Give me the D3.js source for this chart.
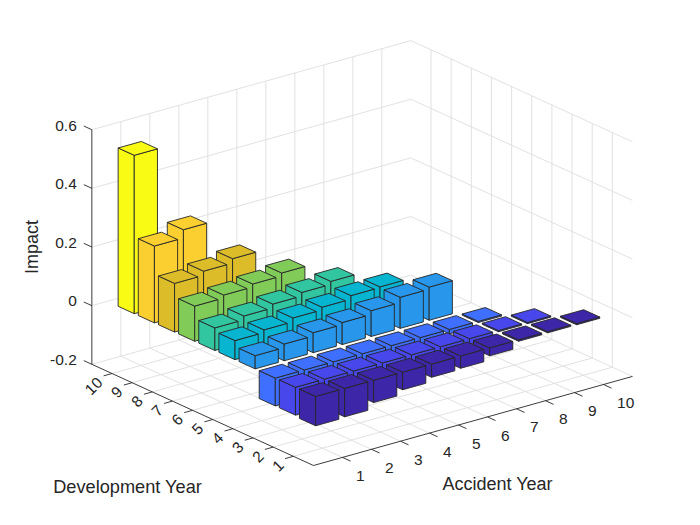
<!DOCTYPE html>
<html><head><meta charset="utf-8">
<script src="https://cdn.jsdelivr.net/npm/d3@7"></script>
<style>
body{margin:0;background:#fff}
svg{display:block}
text{font-family:"Liberation Sans",Arial,Helvetica,sans-serif;fill:#262626}
</style>
</head><body><svg id="chart" width="700" height="525"></svg>
<script>
// ---------------- data ----------------
const accidentYears = [1,2,3,4,5,6,7,8,9,10];
const developmentYears = [1,2,3,4,5,6,7,8,9,10];
const zTicks = [-0.2, 0, 0.2, 0.4, 0.6];
const zTickLabels = ["-0.2","0","0.2","0.4","0.6"];
// impact per development year, one value per accident year present
const dev1  = [-0.100,-0.097,-0.076,-0.060,-0.045,-0.042,-0.027,-0.005,-0.004,-0.004];
const dev2  = [-0.095,-0.090,-0.075,-0.060,-0.045,-0.030,-0.020,-0.004,-0.004];
const dev3  = [-0.095,-0.085,-0.070,-0.060,-0.045,-0.030,-0.015,-0.004];
const dev4  = [0.045,0.057,0.068,0.075,0.088,0.106,0.113];
const dev5  = [0.065,0.074,0.087,0.096,0.108,0.110];
const dev6  = [0.077,0.090,0.103,0.115,0.125];
const dev7  = [0.120,0.130,0.140,0.150];
const dev8  = [0.166,0.180,0.195];
const dev9  = [0.262,0.290];
const dev10 = [0.540];
const impactByDev = [dev1,dev2,dev3,dev4,dev5,dev6,dev7,dev8,dev9,dev10];
const parula10 = ["#3E26A8","#4747EB","#3E6FFF","#2796EB","#08B5D0","#31C69F","#81CC59","#DCBD29","#FCCF30","#F9FB15"];

// ---------------- projection via d3 scales ----------------
const svg = d3.select("#chart");
const xs = d3.scaleLinear().domain([0, 11]).range([0, 1]);
const ys = d3.scaleLinear().domain([0, 11]).range([0, 1]);
const zs = d3.scaleLinear().domain([-0.2, 0.6]).range([0, 234.6]);
const color = d3.scaleOrdinal().domain(developmentYears).range(parula10);
const origin = [313.5, 465.5], ex = [319, -89.1], ey = [-221.65, -101.2];
function P(x, y, z) {
  const u = xs(x), v = ys(y), h = zs(z);
  return [origin[0] + u*ex[0] + v*ey[0], origin[1] + u*ex[1] + v*ey[1] - h];
}
const line = d3.line();
const gridColor = "#dedede";

// ---------------- grid ----------------
const grid = svg.append("g").attr("fill","none").attr("stroke",gridColor).attr("stroke-width",0.9);
const [x0d, x1d] = xs.domain(), [y0d, y1d] = ys.domain(), [z0d, z1d] = zs.domain();
accidentYears.forEach(a => grid.append("path").attr("d", line([P(a,y0d,z0d), P(a,y1d,z0d)])));
developmentYears.forEach(d => grid.append("path").attr("d", line([P(x0d,d,z0d), P(x1d,d,z0d)])));
accidentYears.forEach(a => grid.append("path").attr("d", line([P(a,y1d,z0d), P(a,y1d,z1d)])));
developmentYears.forEach(d => grid.append("path").attr("d", line([P(x1d,d,z0d), P(x1d,d,z1d)])));
zTicks.forEach(z => grid.append("path").attr("d", line([P(x0d,y1d,z), P(x1d,y1d,z), P(x1d,y0d,z)])));

// ---------------- axes ----------------
const ax = svg.append("g").attr("stroke","#262626").attr("stroke-width",0.9).attr("fill","none");
ax.append("path").attr("d", line([P(x0d,y1d,z0d), P(x0d,y1d,z1d)]));
ax.append("path").attr("d", line([P(x0d,y1d,z0d), P(x0d,y0d,z0d), P(x1d,y0d,z0d)]));
const tickLen = 0.4;
zTicks.forEach((z,i) => {
  const a = P(x0d,y1d,z), b = P(x0d,y1d+tickLen,z);
  ax.append("path").attr("d", line([a,b]));
  svg.append("text").attr("x", b[0]-7).attr("y", b[1]-1).attr("text-anchor","end")
    .attr("dominant-baseline","central").style("font-size","15.5px").text(zTickLabels[i]);
});
accidentYears.forEach(a => {
  const p = P(a,y0d,z0d), q = P(a,y0d-tickLen,z0d);
  ax.append("path").attr("d", line([p,q]));
  svg.append("text").attr("x", q[0]+5.5).attr("y", q[1]+14.5).attr("text-anchor","start")
    .attr("dominant-baseline","central").style("font-size","15.5px").text(a);
});
developmentYears.forEach(d => {
  const p = P(x0d,d,z0d), q = P(x0d-tickLen*0.72,d,z0d);
  ax.append("path").attr("d", line([p,q]));
  const tx = q[0]-4, ty = q[1]+4;
  svg.append("text").attr("transform",`translate(${tx},${ty}) rotate(-45)`).attr("text-anchor","end")
    .attr("dominant-baseline","central").style("font-size","15.5px").text(d);
});

// ---------------- bars ----------------
const bars = [];
impactByDev.forEach((vals, i) => vals.forEach((v, j) => bars.push({dev: developmentYears[i], acc: accidentYears[j], v})));
bars.sort((p, q) => (q.acc + q.dev) - (p.acc + p.dev));
const w = 0.4;
const gb = svg.append("g").attr("transform","translate(-3.2,0)")
  .attr("stroke","#262626").attr("stroke-width",0.9).attr("stroke-linejoin","round");
bars.forEach(b => {
  const xa = b.acc - w, xb = b.acc + w, ya = b.dev - w, yb = b.dev + w;
  const lo = Math.min(0, b.v), hi = Math.max(0, b.v);
  const c = color(b.dev);
  const faces = [
    [P(xa,ya,lo), P(xa,yb,lo), P(xa,yb,hi), P(xa,ya,hi)],
    [P(xa,ya,lo), P(xb,ya,lo), P(xb,ya,hi), P(xa,ya,hi)],
    [P(xa,ya,hi), P(xb,ya,hi), P(xb,yb,hi), P(xa,yb,hi)]
  ];
  faces.forEach(f => gb.append("path").attr("d", line(f) + "Z").attr("fill", c));
});

// ---------------- labels ----------------
svg.append("text").attr("transform","translate(38,247) rotate(-90)").attr("text-anchor","middle")
  .style("font-size","18px").text("Impact");
svg.append("text").attr("x",127.5).attr("y",492.5).attr("text-anchor","middle")
  .style("font-size","18.2px").text("Development Year");
svg.append("text").attr("x",497.5).attr("y",489.5).attr("text-anchor","middle")
  .style("font-size","18px").text("Accident Year");
</script>
</body></html>
